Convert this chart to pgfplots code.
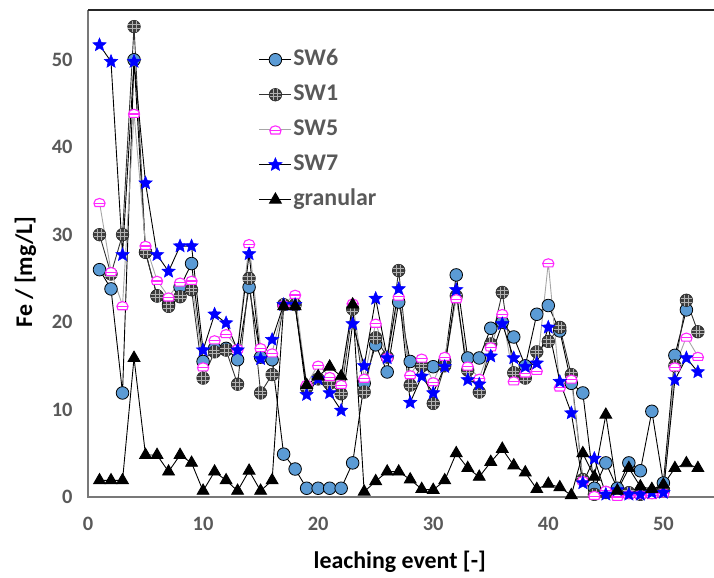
\documentclass[border=0pt]{standalone}
\usepackage{fontspec}
\setmainfont{Carlito}
\usepackage{pgfplots}
\usepackage{pgfplotstable}
\pgfplotsset{compat=1.18}

\definecolor{swsix}{RGB}{91,155,213}
\definecolor{swone}{RGB}{62,62,62}
\definecolor{swfive}{RGB}{255,40,255}
\definecolor{swseven}{RGB}{0,0,255}
\definecolor{labgray}{RGB}{89,89,89}
\definecolor{framegray}{RGB}{120,120,120}

% dark ball with a light grid on it
\pgfdeclareplotmark{gridball}{%
  \pgfpathcircle{\pgfpointorigin}{\pgfplotmarksize}%
  \pgfusepathqfillstroke
  \begin{pgfscope}
    \pgfsetstrokecolor{white!70!black}%
    \pgfsetlinewidth{0.7pt}%
    \pgfpathmoveto{\pgfpoint{-0.9\pgfplotmarksize}{0.3\pgfplotmarksize}}%
    \pgfpathlineto{\pgfpoint{0.9\pgfplotmarksize}{0.3\pgfplotmarksize}}%
    \pgfpathmoveto{\pgfpoint{-0.9\pgfplotmarksize}{-0.3\pgfplotmarksize}}%
    \pgfpathlineto{\pgfpoint{0.9\pgfplotmarksize}{-0.3\pgfplotmarksize}}%
    \pgfpathmoveto{\pgfpoint{0.3\pgfplotmarksize}{-0.9\pgfplotmarksize}}%
    \pgfpathlineto{\pgfpoint{0.3\pgfplotmarksize}{0.9\pgfplotmarksize}}%
    \pgfpathmoveto{\pgfpoint{-0.3\pgfplotmarksize}{-0.9\pgfplotmarksize}}%
    \pgfpathlineto{\pgfpoint{-0.3\pgfplotmarksize}{0.9\pgfplotmarksize}}%
    \pgfusepathqstroke
  \end{pgfscope}%
}
% open dome with a band across it
\pgfdeclareplotmark{dome}{%
  \pgfpathmoveto{\pgfpoint{-\pgfplotmarksize}{-0.15\pgfplotmarksize}}%
  \pgfpatharc{180}{0}{\pgfplotmarksize and 0.85\pgfplotmarksize}%
  \pgfpathlineto{\pgfpoint{0.8\pgfplotmarksize}{-0.75\pgfplotmarksize}}%
  \pgfpathlineto{\pgfpoint{-0.8\pgfplotmarksize}{-0.75\pgfplotmarksize}}%
  \pgfpathclose
  \pgfusepathqfillstroke
  \pgfpathmoveto{\pgfpoint{-\pgfplotmarksize}{-0.15\pgfplotmarksize}}%
  \pgfpathlineto{\pgfpoint{\pgfplotmarksize}{-0.15\pgfplotmarksize}}%
  \pgfusepathqstroke
}
% solid five-pointed star
\pgfdeclareplotmark{solidstar}{%
  \pgfpathmoveto{\pgfpointpolar{90}{\pgfplotmarksize}}%
  \pgfpathlineto{\pgfpointpolar{126}{0.45\pgfplotmarksize}}%
  \pgfpathlineto{\pgfpointpolar{162}{\pgfplotmarksize}}%
  \pgfpathlineto{\pgfpointpolar{198}{0.45\pgfplotmarksize}}%
  \pgfpathlineto{\pgfpointpolar{234}{\pgfplotmarksize}}%
  \pgfpathlineto{\pgfpointpolar{270}{0.45\pgfplotmarksize}}%
  \pgfpathlineto{\pgfpointpolar{306}{\pgfplotmarksize}}%
  \pgfpathlineto{\pgfpointpolar{342}{0.45\pgfplotmarksize}}%
  \pgfpathlineto{\pgfpointpolar{18}{\pgfplotmarksize}}%
  \pgfpathlineto{\pgfpointpolar{54}{0.45\pgfplotmarksize}}%
  \pgfpathclose
  \pgfusepathqfillstroke
}

\pgfplotstableread{
x   sw6   sw1   sw5   sw7   gran
1   26    30    33.7  51.7  1.9
2   23.8  25.5  25.8  49.8  1.9
3   11.9  30    21.9  27.7  1.9
4   50    53.8  43.9  49.8  15.9
5   28    28    28.8  35.9  4.8
6   23    23    24.8  27.7  4.8
7   22    21.8  22.9  25.8  2.9
8   24    22.9  24.6  28.7  4.8
9   26.7  23.7  24.8  28.7  3.9
10  15.5  13.6  14.9  16.8  0.7
11  17    16.6  18.0  20.9  2.9
12  17    16.8  18.7  19.9  1.9
13  15.7  12.9  17.0  16.8  0.7
14  24    25    29    27.8  3.0
15  16    11.9  17.1  15.8  0.7
16  15.7  14    16.5  18    1.9
17  4.9   22    22    22    21.8
18  3.2   22    23.2  22    21.8
19  1.0   12.5  12.9  11.7  12.8
20  1.0   13.5  15.1  13.5  13.8
21  1.0   13    13.8  11.9  14.9
22  1.0   11.8  12.9  9.9   13.8
23  3.9   21.5  22.2  19.8  22
24  13    12    13.6  15    0.6
25  17.4  18.2  19.9  22.7  1.8
26  14.3  16    16    15.9  2.9
27  22.3  25.9  23    23.8  2.9
28  15.5  12.8  14    10.8  2.0
29  15    15    15.9  13.8  0.9
30  14.9  10.7  13.2  11.9  0.8
31  15.5  15    16.1  14.9  1.9
32  25.4  23    22.7  23.7  5.0
33  15.9  14.5  15    13.4  3.3
34  15.9  12    13.6  12.9  2.3
35  19.3  17.5  17.2  16.1  4.0
36  20    23.4  21    19.8  5.5
37  18.3  14.2  13.3  15.9  3.6
38  15    13.6  14.2  14.9  2.8
39  20.9  16.6  14.5  15.3  0.9
40  21.9  17.8  26.8  19.4  1.5
41  19    19.4  12.6  13.2  1.1
42  13    14    13.5  9.6   0.2
43  11.9  2     1.9   1.6   5.0
44  1.0   0.3   0.2   4.4   2.3
45  3.9   0.5   0.8   0.3   9.4
46  1.0   0.3   0.1   0.8   0.7
47  3.9   0.5   0.3   0.3   3.3
48  3.0   0.3   0.3   0.3   1.2
49  9.8   0.5   0.3   0.5   0.9
50  1.6   0.8   0.5   0.5   1.4
51  16.2  15    14.9  13.4  3.3
52  21.4  22.5  18.3  15.9  3.85
53  nan   18.9  16.1  14.3  3.3
}\fetable

\begin{document}
\begin{tikzpicture}
\begin{axis}[
  at={(88bp,81bp)}, anchor=south west,
  scale only axis, width=626bp, height=487bp,
  xmin=0, xmax=54.4, ymin=0, ymax=55.7,
  xtick={0,10,20,30,40,50}, ytick={0,10,20,30,40,50},
  major tick length=0pt,
  axis line style={draw=none},
  clip=false,
  unbounded coords=discard,
  /pgf/number format/assume math mode=true,
  ticklabel style={font=\bfseries\fontsize{20.5}{20.5}\selectfont, text=labgray},
  xticklabel style={yshift=-17bp},
  yticklabel style={xshift=-12bp},
  xlabel={leaching event [-]},
  ylabel={Fe / [mg/L]},
  label style={font=\bfseries\fontsize{24}{24}\selectfont},
  xlabel style={at={(axis description cs:0.498,-0.133)}, anchor=center},
  ylabel style={at={(axis description cs:-0.1,0.462)}, anchor=center},
  legend style={at={(axis description cs:0.268,0.928)}, anchor=north west,
    draw=none, fill=none,
    font=\bfseries\fontsize{24}{24}\selectfont, text=labgray,
    row sep=10bp,
    nodes={inner sep=1.5bp, text height=17bp, text depth=5bp}},
  legend cell align=left,
  legend image code/.code={%
    \draw[mark repeat=2, mark phase=2]
      plot coordinates {(0bp,0bp) (16bp,0bp) (32bp,0bp)};},
]
\addplot[black, line width=0.9pt, mark=*, mark size=6.3bp,
  mark options={fill=swsix, draw=black, line width=0.8pt}]
  table[x=x, y=sw6] {\fetable};
\addlegendentry{SW6}
\addplot[swone!80!black, line width=0.9pt, mark=gridball, mark size=6.3bp,
  mark options={fill=swone, draw=swone!70!black, line width=0.6pt}]
  table[x=x, y=sw1] {\fetable};
\addlegendentry{SW1}
\addplot[black!35, line width=0.9pt, mark=dome, mark size=5.6bp,
  mark options={fill=white, draw=swfive, line width=1.1pt}]
  table[x=x, y=sw5] {\fetable};
\addlegendentry{SW5}
\addplot[black, line width=0.9pt, mark=solidstar, mark size=7bp,
  mark options={fill=swseven, draw=swseven, line width=0.5pt}]
  table[x=x, y=sw7] {\fetable};
\addlegendentry{SW7}
\addplot[black, line width=0.9pt, mark=triangle*, mark size=6.8bp,
  mark options={fill=black, draw=black}]
  table[x=x, y=gran] {\fetable};
\addlegendentry{granular}
% frame: grey left and bottom sides, dark top side
\draw[framegray, line width=1.6pt] (rel axis cs:0,1) -- (rel axis cs:0,0) -- (rel axis cs:1,0);
\draw[black!85, line width=1.8pt] (rel axis cs:0,1) -- (rel axis cs:1,1);
\end{axis}
\pgfresetboundingbox
\useasboundingbox (0,0) rectangle (714bp,578bp);
\end{tikzpicture}
\end{document}
